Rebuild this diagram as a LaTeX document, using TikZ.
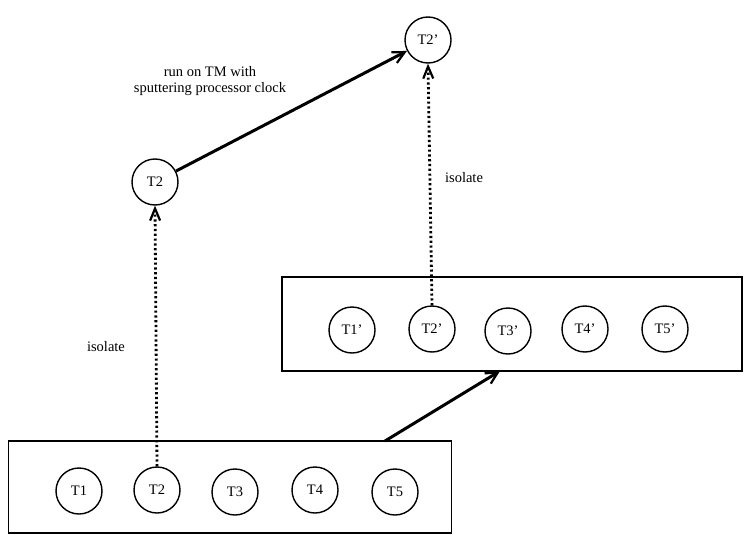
\documentclass[tikz,border=0pt]{standalone}
\usepackage{fontspec}
\setmainfont{Liberation Serif}
\usetikzlibrary{arrows.meta}
\begin{document}
\begin{tikzpicture}[x=1pt,y=-1pt,
  task/.style={circle,draw,line width=1.4pt,minimum size=46pt,inner sep=0pt,font=\fontsize{14.5}{16}\selectfont},
  grp/.style={draw,line width=1.4pt},
  flow/.style={line width=3pt,-{Straight Barb[length=12pt,width=12pt,line width=2.2pt]}},
  iso/.style={line width=2.8pt,dash pattern=on 2.2pt off 2.6pt,-{Straight Barb[length=12pt,width=10pt,line width=2.2pt]}},
  lbl/.style={font=\fontsize{14.5}{16}\selectfont,align=center}]
\useasboundingbox (0,0) rectangle (744,535);
% bottom group
\node[grp,minimum width=443pt,minimum height=92pt,inner sep=0pt] (B) at (230,487) {};
\node[task] (t1) at (79,491) {T1};
\node[task] (t2) at (157,490) {T2};
\node[task] (t3) at (235,492) {T3};
\node[task] (t4) at (315,490) {T4};
\node[task] (t5) at (395,492) {T5};
% top group
\node[grp,minimum width=460pt,minimum height=94pt,inner sep=0pt] (A) at (512,324) {};
\node[task] (u1) at (352,330) {T1'};
\node[task] (u2) at (432,329) {T2'};
\node[task] (u3) at (508,331) {T3'};
\node[task] (u4) at (585,329) {T4'};
\node[task] (u5) at (665,329) {T5'};
% isolated
\node[task] (s2) at (155,182) {T2};
\node[task] (s2p) at (428,40) {T2'};
% connectors
\coordinate (bA) at (385,441);
\coordinate (bB) at (500,371);
\draw[flow] (bA) -- (bB);
\draw[flow] (s2) -- (s2p);
\draw[iso] (t2.north) -- (s2.south);
\draw[iso] (u2.north) -- (s2p.south);
% labels
\node[lbl] (l1) at (106,347) {isolate};
\node[lbl] (l2) at (464,178) {isolate};
\node[lbl] (l3) at (210,81) {run on TM with\\sputtering processor clock};
\end{tikzpicture}
\end{document}
